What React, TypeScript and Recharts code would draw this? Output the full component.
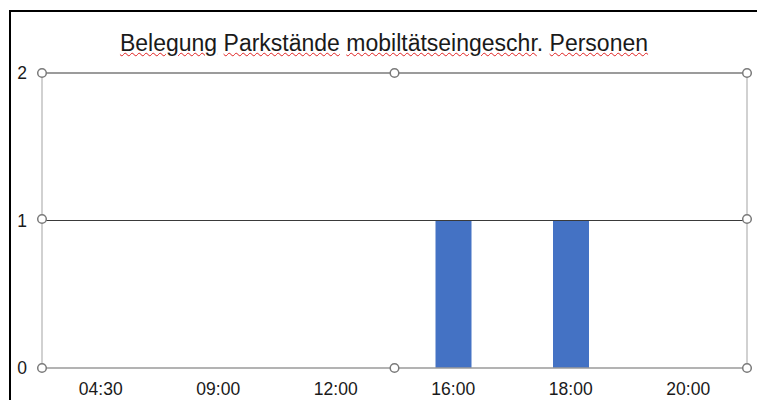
import React from "react";
import { BarChart, Bar, XAxis, YAxis, ReferenceLine } from "recharts";

const times = ["04:30", "09:00", "12:00", "16:00", "18:00", "20:00"];
const occupancy = [0, 0, 0, 1, 1, 0];
const yTicks = [0, 1, 2];
const titleWords = ["Belegung", "Parkstände", "mobiltätseingeschr", ". ", "Personen"];

const data = times.map((t, i) => ({ time: t, value: occupancy[i] }));

const W = 757;
const H = 400;
const MARGIN = { top: 73, right: 10, bottom: 0, left: 12 };
const Y_AXIS_W = 30;
const X_AXIS_H = 32;
const PLOT_L = MARGIN.left + Y_AXIS_W;
const PLOT_R = W - MARGIN.right;
const PLOT_T = MARGIN.top;
const PLOT_B = H - MARGIN.bottom - X_AXIS_H;
const FONT = '"Liberation Sans", Arial, sans-serif';

const squiggle: React.CSSProperties = {
  textDecorationLine: "underline",
  textDecorationStyle: "wavy",
  textDecorationColor: "#e02020",
  textDecorationThickness: "1px",
  textUnderlineOffset: "1px",
};

function Handles() {
  const xs = [PLOT_L, (PLOT_L + PLOT_R) / 2, PLOT_R];
  const ys = [PLOT_T, (PLOT_T + PLOT_B) / 2, PLOT_B];
  const pts: [number, number][] = [];
  ys.forEach((y, yi) =>
    xs.forEach((x, xi) => {
      if (yi === 1 && xi === 1) return;
      pts.push([x, yi === 1 ? 219 : y]);
    })
  );
  return (
    <svg
      width={W}
      height={H}
      style={{ position: "absolute", left: 0, top: 0, pointerEvents: "none" }}
    >
      <line x1={PLOT_L} y1={PLOT_T} x2={PLOT_L} y2={PLOT_B} stroke="#b8b8b8" strokeWidth={1.3} />
      <line x1={PLOT_R} y1={PLOT_T} x2={PLOT_R} y2={PLOT_B} stroke="#b8b8b8" strokeWidth={1.3} />
      {pts.map(([x, y], i) => (
        <circle key={i} cx={x} cy={y} r={4.3} fill="#fff" stroke="#7a7a7a" strokeWidth={1.5} />
      ))}
    </svg>
  );
}

export default function App() {
  return (
    <div
      style={{
        position: "absolute",
        left: 0,
        top: 0,
        width: W,
        height: H,
        background: "#fff",
        overflow: "hidden",
        fontFamily: FONT,
      }}
    >
      <div
        style={{
          position: "absolute",
          left: 9,
          top: 10,
          width: W,
          height: H,
          borderTop: "2px solid #000",
          borderLeft: "2px solid #000",
        }}
      />
      <div
        style={{
          position: "absolute",
          left: 0,
          width: 768,
          top: 32,
          textAlign: "center",
          fontSize: 23,
          lineHeight: "23px",
          color: "#1a1a1a",
          whiteSpace: "pre",
        }}
      >
        <span style={squiggle}>{titleWords[0]}</span>{" "}
        <span style={squiggle}>{titleWords[1]}</span>{" "}
        <span style={squiggle}>{titleWords[2]}</span>
        {titleWords[3]}
        <span style={squiggle}>{titleWords[4]}</span>
      </div>
      <BarChart
        width={W}
        height={H}
        data={data}
        margin={MARGIN}
        style={{ position: "absolute", left: 0, top: 0 }}
      >
        <XAxis
          dataKey="time"
          height={X_AXIS_H}
          axisLine={false}
          tickLine={false}
          tickSize={0}
          tickMargin={15}
          interval={0}
          tick={{ fill: "#1a1a1a", fontSize: 17.5, fontFamily: FONT }}
        />
        <YAxis
          width={Y_AXIS_W}
          domain={[0, 2]}
          ticks={yTicks}
          axisLine={false}
          tickLine={false}
          tickSize={0}
          tickMargin={15}
          tick={{ fill: "#1a1a1a", fontSize: 17.5, fontFamily: FONT }}
        />
        <ReferenceLine y={2} stroke="#7a7a7a" strokeWidth={1.5} />
        <ReferenceLine y={0} stroke="#9a9a9a" strokeWidth={1.5} />
        <Bar dataKey="value" fill="#4472C4" barSize={36} isAnimationActive={false} />
        <ReferenceLine y={1} stroke="#3a3a3a" strokeWidth={1.2} />
      </BarChart>
      <Handles />
    </div>
  );
}
